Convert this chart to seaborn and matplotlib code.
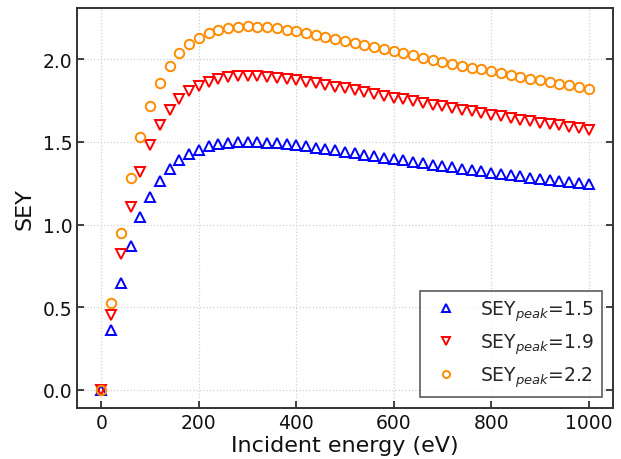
import matplotlib
matplotlib.use("Agg")
import matplotlib.pyplot as plt
import seaborn as sns
import pandas as pd

# Incident electron energy (eV)
energy = [0, 20, 40, 60, 80, 100, 120, 140, 160, 180, 200, 220, 240, 260, 280,
          300, 320, 340, 360, 380, 400, 420, 440, 460, 480, 500, 520, 540, 560,
          580, 600, 620, 640, 660, 680, 700, 720, 740, 760, 780, 800, 820, 840,
          860, 880, 900, 920, 940, 960, 980, 1000]

# Secondary electron yield for three peak values
sey_15 = [0.0, 0.359, 0.649, 0.873, 1.043, 1.170, 1.265, 1.336, 1.388, 1.426,
          1.454, 1.473, 1.486, 1.494, 1.499, 1.500, 1.499, 1.496, 1.492, 1.486,
          1.480, 1.473, 1.465, 1.457, 1.449, 1.440, 1.432, 1.423, 1.415, 1.406,
          1.397, 1.388, 1.380, 1.371, 1.363, 1.354, 1.346, 1.338, 1.330, 1.322,
          1.314, 1.307, 1.299, 1.292, 1.284, 1.277, 1.270, 1.263, 1.256, 1.250,
          1.243]
sey_19 = [0.0, 0.455, 0.822, 1.106, 1.321, 1.482, 1.603, 1.692, 1.758, 1.807,
          1.842, 1.866, 1.883, 1.893, 1.898, 1.900, 1.899, 1.895, 1.889, 1.882,
          1.874, 1.865, 1.856, 1.846, 1.835, 1.825, 1.814, 1.803, 1.792, 1.781,
          1.769, 1.758, 1.748, 1.737, 1.726, 1.716, 1.705, 1.695, 1.685, 1.675,
          1.665, 1.655, 1.645, 1.636, 1.627, 1.618, 1.609, 1.600, 1.591, 1.583,
          1.575]
sey_22 = [0.0, 0.527, 0.952, 1.280, 1.529, 1.716, 1.856, 1.959, 2.036, 2.092,
          2.132, 2.161, 2.180, 2.192, 2.198, 2.200, 2.198, 2.194, 2.188, 2.180,
          2.170, 2.160, 2.149, 2.137, 2.125, 2.113, 2.100, 2.087, 2.075, 2.062,
          2.049, 2.036, 2.024, 2.011, 1.999, 1.986, 1.974, 1.962, 1.951, 1.939,
          1.928, 1.916, 1.905, 1.894, 1.884, 1.873, 1.863, 1.853, 1.843, 1.833,
          1.823]

labels = [r"SEY$_{peak}$=1.5", r"SEY$_{peak}$=1.9", r"SEY$_{peak}$=2.2"]
series = [sey_15, sey_19, sey_22]
colors = ["#0000ff", "#ff0000", "#ff8c00"]
markers = ["^", "v", "o"]
sizes = [7.2, 7.2, 6.8]

sns.set_style("white")
plt.rcParams["font.family"] = ["DejaVu Sans"]

fig = plt.figure(figsize=(6.21, 4.6), dpi=100)
ax = fig.add_axes([0.124, 0.111, 0.863, 0.869])

for lab, vals, col, mk, ms in zip(labels, series, colors, markers, sizes):
    df = pd.DataFrame({"energy": energy, "sey": vals})
    sns.lineplot(data=df, x="energy", y="sey", ax=ax, errorbar=None,
                 linestyle="", marker=mk, markersize=ms, color=col,
                 markerfacecolor="none", markeredgecolor=col,
                 markeredgewidth=1.4, label=lab)

ax.set_xlim(-50, 1050)
ax.set_ylim(-0.11, 2.31)
ax.set_xticks([0, 200, 400, 600, 800, 1000])
ax.set_yticks([0.0, 0.5, 1.0, 1.5, 2.0])
ax.set_yticklabels(["0.0", "0.5", "1.0", "1.5", "2.0"])

ax.grid(True, linestyle=":", color="#d0d0d0", linewidth=0.9)
ax.tick_params(direction="in", labelsize=13.5, length=5, width=1.2,
               colors="#222222", right=True, top=False, left=True, bottom=True)
ax.tick_params(axis="both", labelcolor="#111111")
for sp in ax.spines.values():
    sp.set_color("#333333")
    sp.set_linewidth(1.4)

ax.set_xlabel("Incident energy (eV)", fontsize=16, labelpad=2, color="#111111")
ax.set_ylabel("SEY", fontsize=16, labelpad=6, color="#111111")

leg = ax.legend(loc="lower right", fontsize=13.5, frameon=True, fancybox=False,
                markerscale=0.75, borderaxespad=0.6, labelspacing=0.45)
leg.get_frame().set_edgecolor("#333333")
leg.get_frame().set_linewidth(1.2)

fig.savefig("out.png", dpi=100)
